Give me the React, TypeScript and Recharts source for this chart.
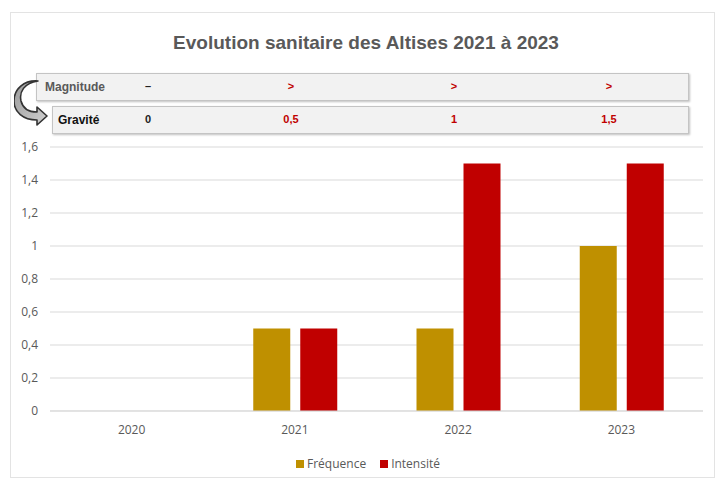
import React from "react";
import { BarChart, Bar, XAxis, YAxis, CartesianGrid } from "recharts";

const YEARS = ["2020", "2021", "2022", "2023"];
const FREQUENCE = [0, 0.5, 0.5, 1];
const INTENSITE = [0, 0.5, 1.5, 1.5];
const Y_TICKS = [0, 0.2, 0.4, 0.6, 0.8, 1, 1.2, 1.4, 1.6];
const MAGNITUDE = ["–", ">", ">", ">"];
const GRAVITE = ["0", "0,5", "1", "1,5"];

const GOLD = "#BF9000";
const RED = "#C00000";
const GREY_TXT = "#595959";

const data = YEARS.map((year, i) => ({
  year,
  frequence: FREQUENCE[i],
  intensite: INTENSITE[i],
}));

// x centres of the table cells (roughly over the year columns)
const CELL_X = [147, 290, 453, 608];

function CurvedArrow() {
  return (
    <svg width={40} height={60} style={{ position: "absolute", left: 14, top: 78 }}>
      <defs>
        <linearGradient id="arrowGrad" x1="0" y1="0" x2="1" y2="1">
          <stop offset="0%" stopColor="#9a9a9a" />
          <stop offset="100%" stopColor="#d0d0d0" />
        </linearGradient>
      </defs>
      <path
        d="M24 3 C10 5 5 14 7 23 C9 31 16 34 23 34 L23 29 L33 38 L23 47 L23 42 C9 42 0 34 0 23 C0 11 10 2 24 3 Z"
        fill="url(#arrowGrad)"
        stroke="#333"
        strokeWidth={1.6}
        strokeLinejoin="round"
      />
    </svg>
  );
}

function TableRow({ top, left, label, values, labelColor, labelLeft }: any) {
  return (
    <div
      style={{
        position: "absolute",
        left,
        top,
        width: 687 - left,
        height: 26,
        background: "#f2f2f2",
        border: "1px solid #c4c4c4",
        boxShadow: "1px 1px 2px rgba(0,0,0,0.25)",
        fontFamily: "'Liberation Sans Narrow', 'Liberation Sans', Arial, sans-serif",
        fontWeight: "bold",
        fontSize: 12,
      }}
    >
      <span style={{ position: "absolute", left: labelLeft - left, top: 6, color: labelColor }}>{label}</span>
      {values.map((v: string, i: number) => (
        <span
          key={i}
          style={{
            position: "absolute",
            left: CELL_X[i] - left,
            top: 6,
            transform: "translateX(-50%)",
            color: i === 0 ? "#222" : RED,
            fontSize: 11,
          }}
        >
          {v}
        </span>
      ))}
    </div>
  );
}

export default function App() {
  return (
    <div style={{ position: "absolute", left: 0, top: 0, width: 719, height: 481, background: "#fff" }}>
      <div
        style={{
          position: "absolute",
          left: 10,
          top: 12,
          width: 705,
          height: 466,
          border: "1px solid #e3e3e3",
          boxSizing: "border-box",
        }}
      />
      <div
        style={{
          position: "absolute",
          left: 0,
          width: 732,
          top: 32,
          textAlign: "center",
          fontFamily: "'Liberation Sans', Arial, sans-serif",
          fontWeight: "bold",
          fontSize: 19,
          color: GREY_TXT,
        }}
      >
        Evolution sanitaire des Altises 2021 à 2023
      </div>

      <TableRow top={73} left={36} label="Magnitude" labelLeft={44} values={MAGNITUDE} labelColor={GREY_TXT} />
      <TableRow top={106} left={52} label="Gravité" labelLeft={57} values={GRAVITE} labelColor="#111" />
      <CurvedArrow />

      <div style={{ position: "absolute", left: 0, top: 0 }}>
        <BarChart
          width={719}
          height={481}
          data={data}
          margin={{ top: 147, right: 16, bottom: 40, left: 10 }}
          barGap={10}
          barSize={37}
        >
          <CartesianGrid vertical={false} stroke="#d9d9d9" />
          <XAxis
            dataKey="year"
            axisLine={{ stroke: "#d9d9d9" }}
            tickLine={false}
            tickSize={0}
            tickMargin={14}
            height={30}
            tick={{ fill: GREY_TXT, fontSize: 12, fontFamily: "'Open Sans', sans-serif" }}
          />
          <YAxis
            domain={[0, 1.6]}
            ticks={Y_TICKS}
            axisLine={false}
            tickLine={false}
            tickSize={0}
            tickMargin={12}
            width={40}
            tickFormatter={(v: number) => String(v).replace(".", ",")}
            tick={{ fill: GREY_TXT, fontSize: 12, fontFamily: "'Open Sans', sans-serif" }}
          />
          <Bar dataKey="frequence" fill={GOLD} isAnimationActive={false} />
          <Bar dataKey="intensite" fill={RED} isAnimationActive={false} />
        </BarChart>
      </div>

      <div
        style={{
          position: "absolute",
          top: 455,
          left: 0,
          width: 736,
          display: "flex",
          justifyContent: "center",
          gap: 14,
          fontFamily: "'Open Sans', sans-serif",
          fontSize: 12,
          color: GREY_TXT,
        }}
      >
        <span style={{ display: "flex", alignItems: "center", gap: 3 }}>
          <span style={{ width: 8, height: 8, background: GOLD, display: "inline-block" }} />
          Fréquence
        </span>
        <span style={{ display: "flex", alignItems: "center", gap: 3 }}>
          <span style={{ width: 8, height: 8, background: RED, display: "inline-block" }} />
          Intensité
        </span>
      </div>
    </div>
  );
}
